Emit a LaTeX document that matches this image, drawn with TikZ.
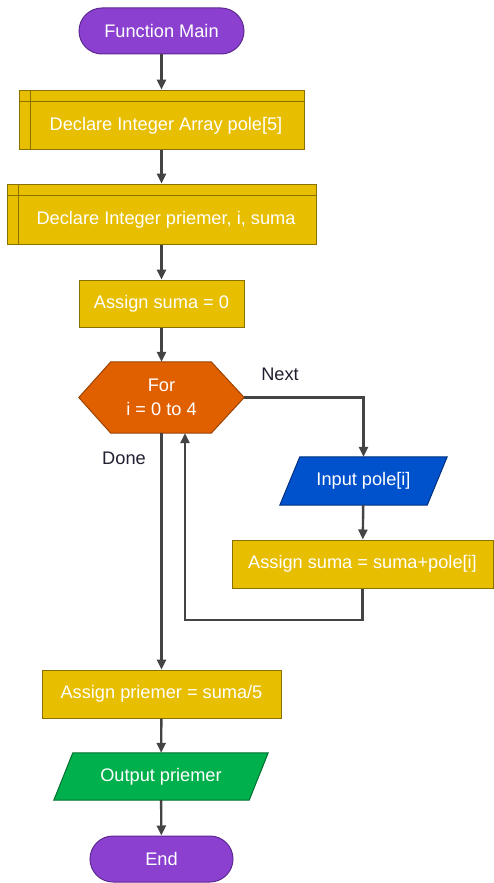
\documentclass[tikz,border=0pt]{standalone}
\usepackage{fontspec}
\setmainfont{Liberation Sans}
\usetikzlibrary{arrows.meta,backgrounds,calc}

\definecolor{termfill}{HTML}{8B40D0}
\definecolor{termline}{HTML}{5C2A90}
\definecolor{procfill}{HTML}{E8BE00}
\definecolor{procline}{HTML}{8A7000}
\definecolor{loopfill}{HTML}{E06000}
\definecolor{loopline}{HTML}{9A4200}
\definecolor{infill}{HTML}{0052CC}
\definecolor{inline}{HTML}{00307F}
\definecolor{outfill}{HTML}{00B04C}
\definecolor{outline}{HTML}{007030}
\definecolor{flowline}{HTML}{444444}
\definecolor{labeltext}{HTML}{202030}

\begin{document}
\begin{tikzpicture}[x=1pt, y=-1pt,
  every node/.style={font=\fontsize{18.2}{24}\selectfont, text=white, inner sep=0pt},
  term/.style={rectangle, rounded corners=23pt, draw=termline, fill=termfill, line width=1pt},
  proc/.style={rectangle, draw=procline, fill=procfill, line width=1pt},
  inner/.style={draw=procline, line width=1pt},
  flow/.style={draw=flowline, line width=2.4pt, -{Triangle[length=10pt,width=9pt]}},
  edgelabel/.style={text=labeltext}
]
\useasboundingbox (0,0) rectangle (494,883);

% start terminal
\node[term, minimum width=165, minimum height=46] (start) at (161.5,31) {Function Main};

% declaration blocks (predefined-process style)
\node[proc, minimum width=285, minimum height=59] (decl1) at (161.5,119.5) {};
\draw[inner] ($(decl1.north west)+(12,0)$) -- ($(decl1.south west)+(12,0)$);
\draw[inner] ($(decl1.north west)+(0,12)$) -- ($(decl1.north east)+(0,12)$);
\node (decl1txt) at (166,125.5) {Declare Integer Array pole[5]};

\node[proc, minimum width=309, minimum height=60] (decl2) at (161.5,214) {};
\draw[inner] ($(decl2.north west)+(12,0)$) -- ($(decl2.south west)+(12,0)$);
\draw[inner] ($(decl2.north west)+(0,12)$) -- ($(decl2.north east)+(0,12)$);
\node (decl2txt) at (166,220) {Declare Integer priemer, i, suma};

% initial assignment
\node[proc, minimum width=165, minimum height=47] (asg0) at (161.5,303.5) {Assign suma = 0};

% loop hexagon
\node[minimum width=165, minimum height=71, align=center] (loop) at (161.5,397.5) {For\\i = 0 to 4};
\begin{scope}[on background layer]
  \path[fill=loopfill, draw=loopline, line width=1pt]
    (loop.west) -- ($(loop.north west)+(32,0)$) -- ($(loop.north east)+(-33,0)$)
    -- (loop.east) -- ($(loop.south east)+(-33,0)$) -- ($(loop.south west)+(32,0)$) -- cycle;
\end{scope}

% loop body
\node[minimum width=167, minimum height=48] (inp) at (363.5,481) {Input pole[i]};
\begin{scope}[on background layer]
  \path[fill=infill, draw=inline, line width=1pt]
    ($(inp.north west)+(20,0)$) -- (inp.north east) -- ($(inp.south east)+(-20,0)$)
    -- (inp.south west) -- cycle;
\end{scope}

\node[proc, minimum width=261, minimum height=48] (asgsum) at (362.5,564) {Assign suma = suma+pole[i]};
\coordinate (back) at (185,620);

% after the loop
\node[proc, minimum width=239, minimum height=48] (asgpr) at (161.5,694) {Assign priemer = suma/5};

\node[minimum width=214, minimum height=47] (out) at (161,776.5) {Output priemer};
\begin{scope}[on background layer]
  \path[fill=outfill, draw=outline, line width=1pt]
    ($(out.north west)+(19,0)$) -- (out.north east) -- ($(out.south east)+(-19,0)$)
    -- (out.south west) -- cycle;
\end{scope}

\node[term, minimum width=143, minimum height=46] (end) at (161.5,859) {End};

% connectors
\draw[flow] (start) -- (decl1);
\draw[flow] (decl1) -- (decl2);
\draw[flow] (decl2) -- (asg0);
\draw[flow] (asg0) -- (loop);
\draw[flow] (loop.east) -| (inp.north);
\draw[flow] (inp) -- (asgsum);
\draw[flow] (asgsum.south) |- (back) -- (back |- loop.south);
\draw[flow] (loop.south) -- (asgpr.north);
\draw[flow] (asgpr) -- (out);
\draw[flow] (out) -- (end);

% branch labels
\node[edgelabel] (nextlbl) at (280,374) {Next};
\node[edgelabel] (donelbl) at (124,458) {Done};
\end{tikzpicture}
\end{document}
